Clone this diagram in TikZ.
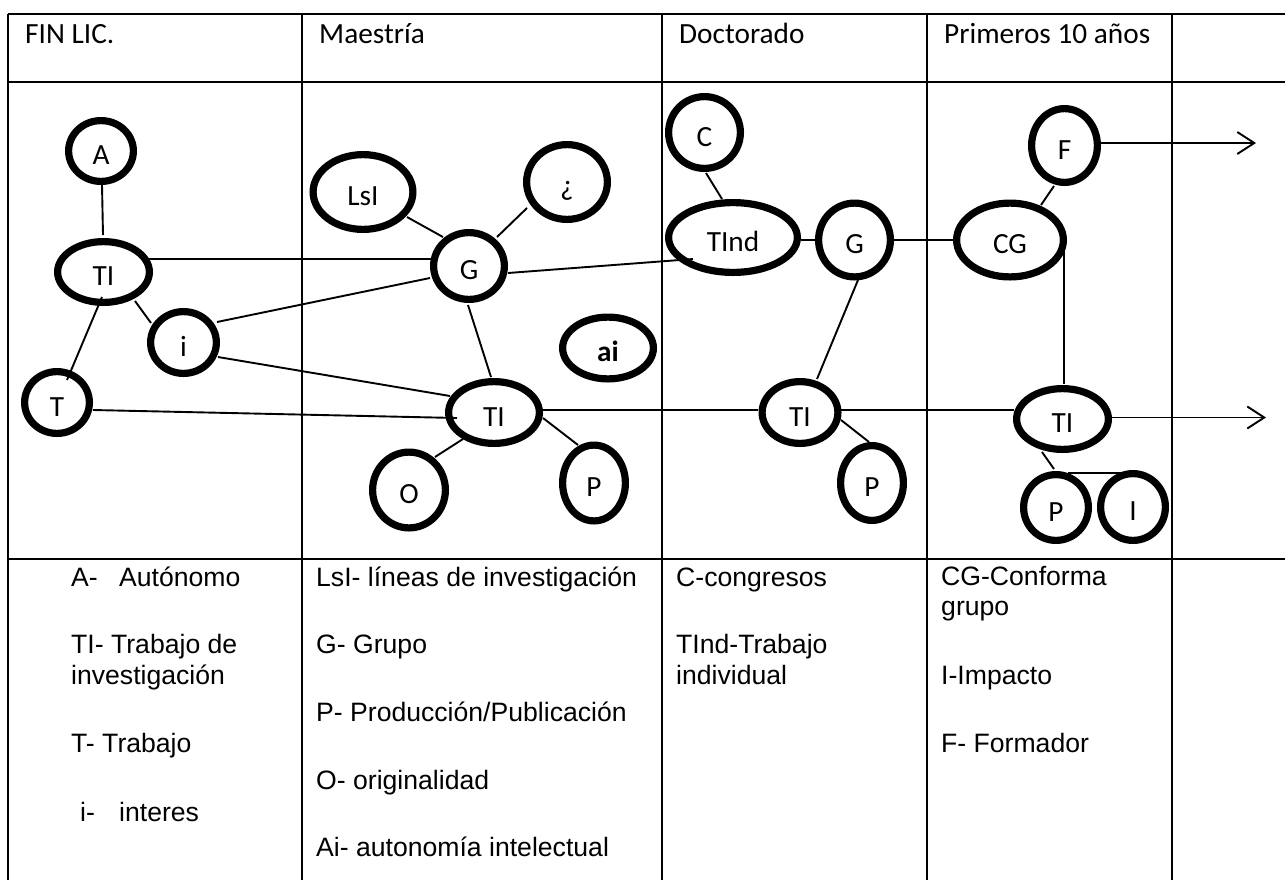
\documentclass[tikz,border=0pt]{standalone}
\usepackage{fontspec}
\setmainfont{Carlito}
\newfontfamily\legendfont{Liberation Sans}
\usetikzlibrary{shapes.geometric,arrows.meta,calc}

\newcommand\ringw{7.2pt}

\tikzset{
  grid/.style={line width=2.4pt},
  bubble/.style={draw, ellipse, line width=\ringw, inner sep=0pt, outer sep=0pt,
    font=\fontsize{29.3}{35}\selectfont, text height=27pt, text depth=0pt},
  % outer width and height of a bubble, stroke included
  outer/.style 2 args={minimum width=#1pt-\ringw, minimum height=#2pt-\ringw},
  link/.style={line width=1.9pt},
  flow/.style={line width=1.9pt, -{Straight Barb[length=17pt,width=22pt]}},
  head/.style={anchor=base west, inner sep=0pt, font=\fontsize{29.3}{35}\selectfont},
  key/.style={anchor=base west, inner sep=0pt, font=\legendfont\fontsize{26.6}{31}\selectfont},
}

\begin{document}
\begin{tikzpicture}[x=1pt,y=-1pt]
\useasboundingbox (0,0) rectangle (1285,879);

% table rules
\draw[grid] (8,14) -- (1290,14);
\draw[grid] (8,82) -- (1290,82);
\draw[grid] (8,559) -- (1290,559);
\foreach \cx in {8,302,662,927,1172}
  \draw[grid] (\cx,14) -- (\cx,885);

% column headings
\node[head] (h1) at (25,43)  {FIN LIC.};
\node[head] (h2) at (319,43) {Maestría};
\node[head] (h3) at (679,43) {Doctorado};
\node[head] (h4) at (944,43) {Primeros 10 años};

% FIN LIC.
\node[bubble, outer={72}{68}]  (A)   at (101,151)     {A};
\node[bubble, outer={99}{68}]  (TI1) at (103.5,272)   {TI};
\node[bubble, outer={73}{69}]  (i)   at (183.5,342.5) {i};
\node[bubble, outer={72}{69}]  (T)   at (57,402.5)    {T};

% Maestria
\node[bubble, outer={107}{82}] (LsI) at (363,192)     {LsI};
\node[bubble, outer={88}{82}]  (Q)   at (567,182)     {¿};
\node[bubble, outer={78}{74}]  (G1)  at (469,266)     {G};
\node[bubble, outer={98}{69}]  (ai)  at (608,348)     {\textbf{ai}};
\node[bubble, outer={98}{69}]  (TI2) at (494,412.5)   {TI};
\node[bubble, outer={80}{83}]  (O)   at (409,490)     {O};
\node[bubble, outer={70}{83}]  (P2)  at (594,483)     {P};

% Doctorado
\node[bubble, outer={79}{79}]  (C)    at (704.5,132.5) {C};
\node[bubble, outer={136}{77}] (TInd) at (733,237.5)   {TInd};
\node[bubble, outer={79}{81}]  (G2)   at (854.5,240)   {G};
\node[bubble, outer={83}{69}]  (TI3)  at (800,412.5)   {TI};
\node[bubble, outer={70}{82}]  (P3)   at (872,483)     {P};

% Primeros 10 anos
\node[bubble, outer={73}{81}]  (F)   at (1064.5,145.5) {F};
\node[bubble, outer={114}{81}] (CG)  at (1010,240)     {CG};
\node[bubble, outer={99}{68}]  (TI4) at (1062.5,419)   {TI};
\node[bubble, outer={72}{73}]  (P4)  at (1056,507.5)   {P};
\node[bubble, outer={72}{74}]  (I)   at (1133,507)     {I};

\coordinate (Fend)  at (1256,143);
\coordinate (TIend) at (1266,417.5);

% links
\draw[link] ($(A)+(1,34)$) -- ($(TI1)+(-0.5,-37)$);
\draw[link] ($(TI1)+(45,-13)$) -- ($(G1)+(-37,-7)$);
\draw[link] ($(TI1)+(-1.5,25)$) -- ($(T)+(10,-22.5)$);
\draw[link] ($(TI1)+(31.5,29)$) -- ($(i)+(-32.5,-19.5)$);
\draw[link] ($(i)+(33.5,-20.5)$) -- ($(G1)+(-39,12)$);
\draw[link] ($(i)+(34.5,14.5)$) -- ($(TI2)+(-44,-16.5)$);
\draw[link] ($(T)+(36,7.5)$) -- ($(TI2)+(-37,5.5)$);
\draw[link] ($(LsI)+(44,25)$) -- ($(G1)+(-26,-29)$);
\draw[link] ($(G1)+(28,-29)$) -- ($(Q)+(-40,26)$);
\draw[link] ($(G1)+(-1,39)$) -- ($(TI2)+(-3,-35.5)$);
\draw[link] ($(G1)+(39,7)$) -- ($(TInd)+(-40,21.5)$);
\draw[link] ($(TI2)+(49,-2.5)$) -- ($(TI3)+(-42,-2.5)$);
\draw[link] ($(TI2)+(49,5.5)$) -- ($(P2)+(-16,-38)$);
\draw[link] ($(TI2)+(-31,26.5)$) -- ($(O)+(26,-33)$);
\draw[link] ($(C)+(1.5,40.5)$) -- ($(TInd)+(-11,-38.5)$);
\draw[link] ($(TInd)+(68,2.5)$) -- ($(G2)+(-39.5,0)$);
\draw[link] ($(G2)+(39.5,0)$) -- ($(CG)+(-57,0)$);
\draw[link] ($(G2)+(3.5,40)$) -- ($(TI3)+(17,-33.5)$);
\draw[link] ($(TI3)+(41,-2.5)$) -- ($(TI4)+(-49,-9)$);
\draw[link] ($(TI3)+(41,7.5)$) -- ($(P3)+(-3,-41)$);
\draw[link] ($(CG)+(31,-35)$) -- ($(F)+(-10.5,40.5)$);
\draw[link] ($(CG)+(54,10)$) -- ($(TI4)+(1.5,-35)$);
\draw[link] ($(TI4)+(-20.5,33)$) -- ($(P4)+(-2,-38.5)$);
\draw[link] ($(P4)+(12,-34.5)$) -- ($(I)+(-8,-34)$);
\draw[flow] ($(F)+(36.5,-2.5)$) -- (Fend);
\draw[flow] ($(TI4)+(49.5,-1.5)$) -- (TIend);

% legend
\node[key] (k1) at (71,586) {\makebox[48pt][l]{A-}Autónomo};
\node[key] (k2) at (71,653) {TI- Trabajo de};
\node[key] (k3) at (71,684) {investigación};
\node[key] (k4) at (71,752) {T- Trabajo};
\node[key] (k5) at (80,821) {\makebox[39pt][l]{i-}interes};

\node[key] (m1) at (316,586) {LsI- líneas de investigación};
\node[key] (m2) at (316,653) {G- Grupo};
\node[key] (m3) at (316,721) {P- Producción/Publicación};
\node[key] (m4) at (316,789) {O- originalidad};
\node[key] (m5) at (316,856) {Ai- autonomía intelectual};

\node[key] (d1) at (676,586) {C-congresos};
\node[key] (d2) at (676,653) {TInd-Trabajo};
\node[key] (d3) at (676,684) {individual};

\node[key] (p1) at (941,585) {CG-Conforma};
\node[key] (p2) at (941,615) {grupo};
\node[key] (p3) at (941,684) {I-Impacto};
\node[key] (p4) at (941,752) {F- Formador};
\end{tikzpicture}
\end{document}
